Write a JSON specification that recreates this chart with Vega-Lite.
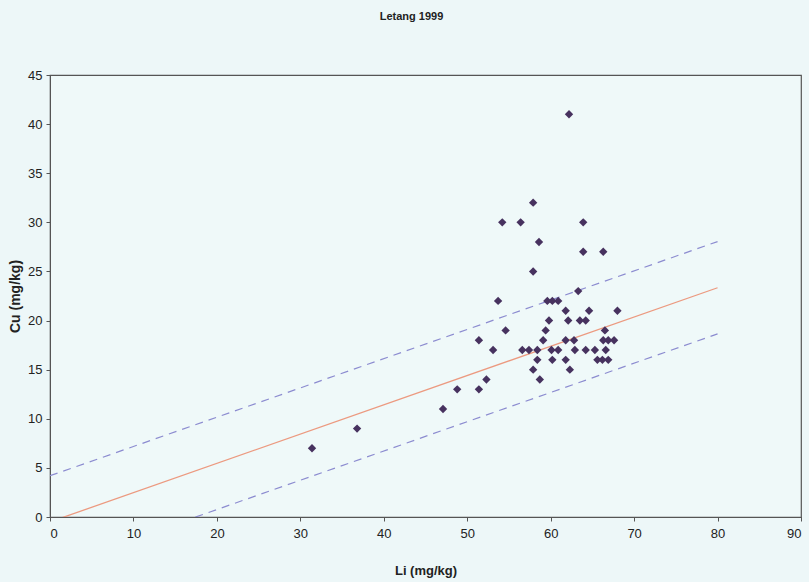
{
  "$schema": "https://vega.github.io/schema/vega-lite/v6.json",
  "width": 751,
  "height": 442,
  "autosize": "none",
  "padding": {"left": 50, "top": 75, "right": 8, "bottom": 65},
  "background": "#edf7f8",
  "title": {
    "text": "Letang 1999",
    "fontSize": 11,
    "font": "Liberation Sans",
    "fontWeight": "bold",
    "color": "#222",
    "offset": 47,
    "dx": -14
  },
  "config": {
    "view": {"stroke": "#555", "strokeWidth": 1.2, "fill": "#eff9f9"},
    "axis": {
      "grid": false,
      "domainColor": "#555",
      "tickColor": "#555",
      "labelFont": "Liberation Sans",
      "labelFontSize": 13,
      "labelColor": "#222",
      "titleFont": "Liberation Sans",
      "titleFontSize": 13,
      "titleFontWeight": "bold",
      "titleColor": "#222",
      "tickSize": 4
    }
  },
  "datasets": {
    "pts": [
      {"Li": 31.4, "Cu": 7}, {"Li": 36.8, "Cu": 9}, {"Li": 47.1, "Cu": 11},
      {"Li": 48.8, "Cu": 13}, {"Li": 51.4, "Cu": 13}, {"Li": 52.3, "Cu": 14},
      {"Li": 51.4, "Cu": 18}, {"Li": 53.1, "Cu": 17}, {"Li": 53.7, "Cu": 22},
      {"Li": 54.2, "Cu": 30}, {"Li": 54.6, "Cu": 19}, {"Li": 56.4, "Cu": 30},
      {"Li": 56.6, "Cu": 17}, {"Li": 57.4, "Cu": 17}, {"Li": 57.9, "Cu": 32},
      {"Li": 57.9, "Cu": 25}, {"Li": 57.9, "Cu": 15}, {"Li": 58.4, "Cu": 17},
      {"Li": 58.4, "Cu": 16}, {"Li": 58.6, "Cu": 28}, {"Li": 58.7, "Cu": 14},
      {"Li": 59.1, "Cu": 18}, {"Li": 59.4, "Cu": 19}, {"Li": 59.6, "Cu": 22},
      {"Li": 59.8, "Cu": 20}, {"Li": 60.2, "Cu": 22}, {"Li": 60.1, "Cu": 17},
      {"Li": 60.2, "Cu": 16}, {"Li": 60.9, "Cu": 22}, {"Li": 60.9, "Cu": 17},
      {"Li": 61.8, "Cu": 21}, {"Li": 62.1, "Cu": 20}, {"Li": 61.8, "Cu": 18},
      {"Li": 61.8, "Cu": 16}, {"Li": 62.2, "Cu": 41}, {"Li": 62.3, "Cu": 15},
      {"Li": 62.8, "Cu": 18}, {"Li": 62.9, "Cu": 17}, {"Li": 63.3, "Cu": 23},
      {"Li": 63.5, "Cu": 20}, {"Li": 64.2, "Cu": 20}, {"Li": 63.9, "Cu": 30},
      {"Li": 63.9, "Cu": 27}, {"Li": 64.6, "Cu": 21}, {"Li": 64.2, "Cu": 17},
      {"Li": 65.3, "Cu": 17}, {"Li": 65.6, "Cu": 16}, {"Li": 66.2, "Cu": 16},
      {"Li": 66.9, "Cu": 16}, {"Li": 66.3, "Cu": 27}, {"Li": 66.5, "Cu": 19},
      {"Li": 66.6, "Cu": 17}, {"Li": 66.3, "Cu": 18}, {"Li": 66.9, "Cu": 18},
      {"Li": 67.6, "Cu": 18}, {"Li": 68.0, "Cu": 21}
    ],
    "fit": [
      {"Li": 0, "Cu": -0.5}, {"Li": 80, "Cu": 23.34}
    ],
    "band": [
      {"Li": 0, "Cu": 4.2, "side": "upper"}, {"Li": 80, "Cu": 28.04, "side": "upper"},
      {"Li": 0, "Cu": -5.2, "side": "lower"}, {"Li": 80, "Cu": 18.64, "side": "lower"}
    ]
  },
  "encoding": {
    "x": {
      "field": "Li", "type": "quantitative",
      "scale": {"domain": [0, 90], "nice": false, "zero": false},
      "axis": {"title": "Li (mg/kg)", "values": [0,10,20,30,40,50,60,70,80,90], "labelPadding": 6, "titlePadding": 24}
    },
    "y": {
      "field": "Cu", "type": "quantitative",
      "scale": {"domain": [0, 45], "nice": false, "zero": false},
      "axis": {"title": "Cu (mg/kg)", "titleFontSize": 14, "values": [0,5,10,15,20,25,30,35,40,45], "labelPadding": 4, "titlePadding": 5}
    }
  },
  "layer": [
    {
      "data": {"name": "band"},
      "mark": {"type": "line", "clip": true, "color": "#8c8cd0", "strokeWidth": 1.2, "strokeDash": [8, 6]},
      "encoding": {"detail": {"field": "side", "type": "nominal"}}
    },
    {
      "data": {"name": "fit"},
      "mark": {"type": "line", "clip": true, "color": "#ec9a80", "strokeWidth": 1.3},
      "encoding": {}
    },
    {
      "data": {"name": "pts"},
      "mark": {"type": "point", "shape": "diamond", "filled": true, "size": 70, "color": "#47325f", "opacity": 1}
    }
  ]
}
